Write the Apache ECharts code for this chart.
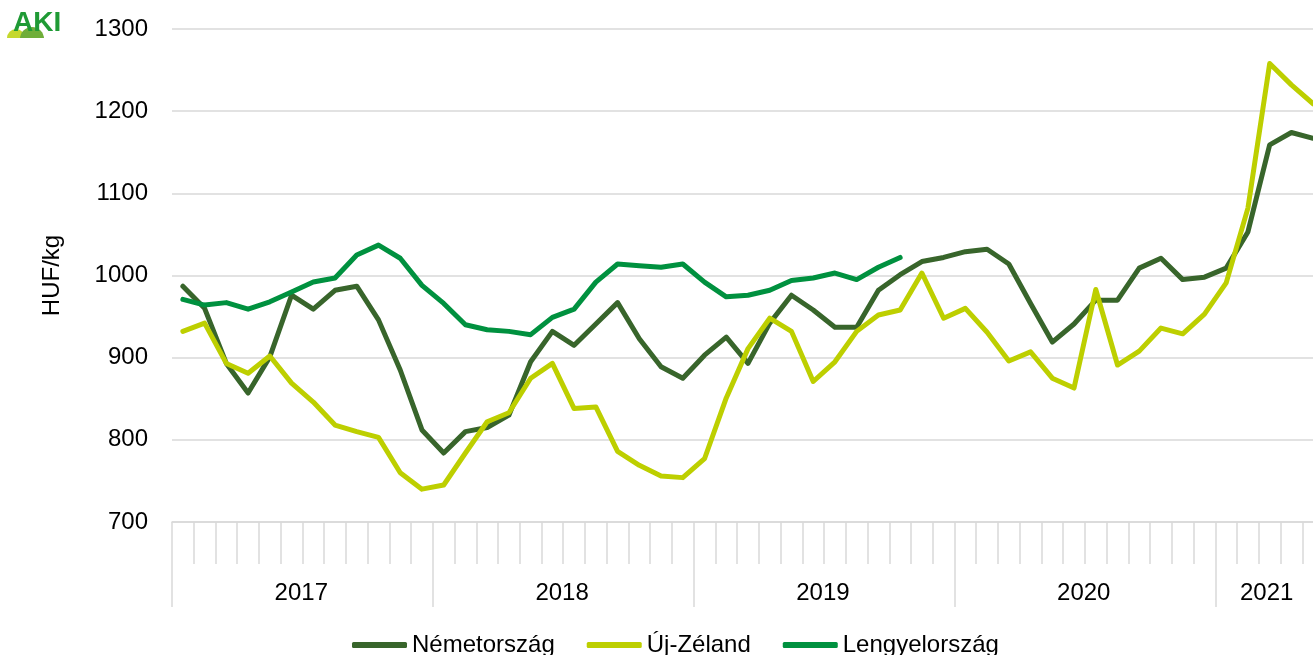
<!DOCTYPE html>
<html>
<head>
<meta charset="utf-8">
<script src="https://cdn.jsdelivr.net/npm/echarts@6/dist/echarts.min.js"></script>
<style>
  html, body { margin: 0; padding: 0; background: #fff; }
  #chart { width: 1313px; height: 655px; }
</style>
</head>
<body>
<div id="chart"></div>
<script>
// évek és hónapok (2017.01 - 2021.05)
const years = ["2017", "2018", "2019", "2020", "2021"];
const monthsInYear = [12, 12, 12, 12, 5];
const yTicks = [700, 800, 900, 1000, 1100, 1200, 1300];

const nemetorszag = [
  987, 960, 893, 857, 901, 976, 959, 982, 987, 946, 885, 812,
  784, 810, 815, 830, 895, 932, 915, 941, 967, 923, 889, 875,
  903, 925, 893, 942, 976, 958, 937, 937, 982, 1001, 1017, 1022,
  1029, 1032, 1014, 966, 919, 941, 970, 970, 1009, 1021, 995, 998,
  1009, 1053, 1159, 1174, 1167,
];
const ujZeland = [
  932, 942, 893, 881, 902, 869, 846, 818, 810, 803, 760, 740,
  745, 784, 822, 833, 875, 893, 838, 840, 786, 769, 756, 754,
  777, 851, 911, 948, 932, 871, 895, 932, 952, 958, 1003, 948,
  960, 931, 896, 907, 875, 863, 983, 891, 908, 936, 929, 953,
  991, 1082, 1258, 1232, 1209,
];
const lengyelorszag = [
  971, 964, 967, 959, 968, 980, 992, 997, 1025, 1037, 1021, 988,
  966, 940, 934, 932, 928, 949, 959, 992, 1014, 1012, 1010, 1014,
  992, 974, 976, 982, 994, 997, 1003, 995, 1010, 1022,
];

// kategóriák
const months = [];
years.forEach((y, i) => {
  for (let m = 1; m <= monthsInYear[i]; m++) {
    months.push(y + "." + (m < 10 ? "0" + m : m));
  }
});
// év-címke helye: teljes évnél a július, 2021-nél a március
const labelIndex = [];
const yearStart = [];
let start = 0;
years.forEach((y, i) => {
  yearStart.push(start);
  labelIndex.push(monthsInYear[i] === 12 ? start + 6 : start + 2);
  start += monthsInYear[i];
});

const font = "Liberation Sans, Arial, sans-serif";
const gridColor = "#d9d9d9";

const myChart = echarts.init(document.getElementById("chart"));
myChart.setOption({
  animation: false,
  // a kép jobb széle levágja az utolsó hónapot
  grid: { left: 172, width: 1152, top: 29, height: 493, outerBoundsMode: "none", containLabel: false },
  legend: {
    left: 347,
    top: 628,
    itemWidth: 55,
    itemHeight: 6,
    itemGap: 32,
    icon: "roundRect",
    textStyle: { fontFamily: font, fontSize: 24, color: "#000" },
  },
  xAxis: [
    {
      type: "category",
      data: months,
      boundaryGap: true,
      axisLine: { show: true, lineStyle: { color: gridColor, width: 1.5 } },
      axisTick: { show: true, interval: 0, length: 42, lineStyle: { color: gridColor, width: 1.5 } },
      axisLabel: {
        interval: (i) => labelIndex.indexOf(i) >= 0,
        margin: 59,
        formatter: (v) => {
          const y = v.slice(0, 4);
          return y === "2021" ? "{b|" + y + "}" : "{a|" + y + "}";
        },
        rich: {
          a: { fontFamily: font, fontSize: 24, color: "#000", padding: [0, 24, 0, 0] },
          b: { fontFamily: font, fontSize: 24, color: "#000", padding: [0, 6, 0, 0] },
        },
      },
      splitLine: { show: false },
    },
    {
      type: "category",
      data: months,
      position: "bottom",
      boundaryGap: true,
      axisLine: { show: false },
      axisTick: {
        show: true,
        interval: (i) => yearStart.indexOf(i) >= 0,
        length: 85,
        lineStyle: { color: gridColor, width: 1.5 },
      },
      axisLabel: { show: false },
      splitLine: { show: false },
    },
  ],
  yAxis: {
    type: "value",
    min: yTicks[0],
    max: yTicks[yTicks.length - 1],
    interval: 100,
    name: "HUF/kg",
    nameLocation: "middle",
    nameGap: 108,
    nameTextStyle: { fontFamily: font, fontSize: 24, color: "#000" },
    axisLine: { show: false },
    axisTick: { show: false },
    axisLabel: { fontFamily: font, fontSize: 24, color: "#000", margin: 24, formatter: (v) => String(v) },
    splitLine: { lineStyle: { color: gridColor, width: 1.5 } },
  },
  series: [
    {
      name: "Németország",
      type: "line",
      data: nemetorszag,
      symbol: "none",
      itemStyle: { color: "#38652b" },
      lineStyle: { width: 5, color: "#38652b", cap: "round", join: "round" },
    },
    {
      name: "Új-Zéland",
      type: "line",
      data: ujZeland,
      symbol: "none",
      itemStyle: { color: "#bdcf00" },
      lineStyle: { width: 5, color: "#bdcf00", cap: "round", join: "round" },
    },
    {
      name: "Lengyelország",
      type: "line",
      data: lengyelorszag,
      symbol: "none",
      itemStyle: { color: "#00913f" },
      lineStyle: { width: 5, color: "#00913f", cap: "round", join: "round" },
    },
  ],
  graphic: [
    // AKI logó
    { type: "circle", shape: { cx: 16, cy: 38, r: 9 }, style: { fill: "#c5d82e" } },
    { type: "circle", shape: { cx: 32, cy: 39, r: 12 }, style: { fill: "#6fae3a" } },
    { type: "rect", shape: { x: 2, y: 38, width: 50, height: 14 }, style: { fill: "#fff" } },
    {
      type: "text",
      left: 13,
      top: 9,
      style: { text: "AKI", fontFamily: font, fontSize: 28, fontWeight: "bold", fill: "#1f9a35" },
    },
  ],
});
</script>
</body>
</html>
